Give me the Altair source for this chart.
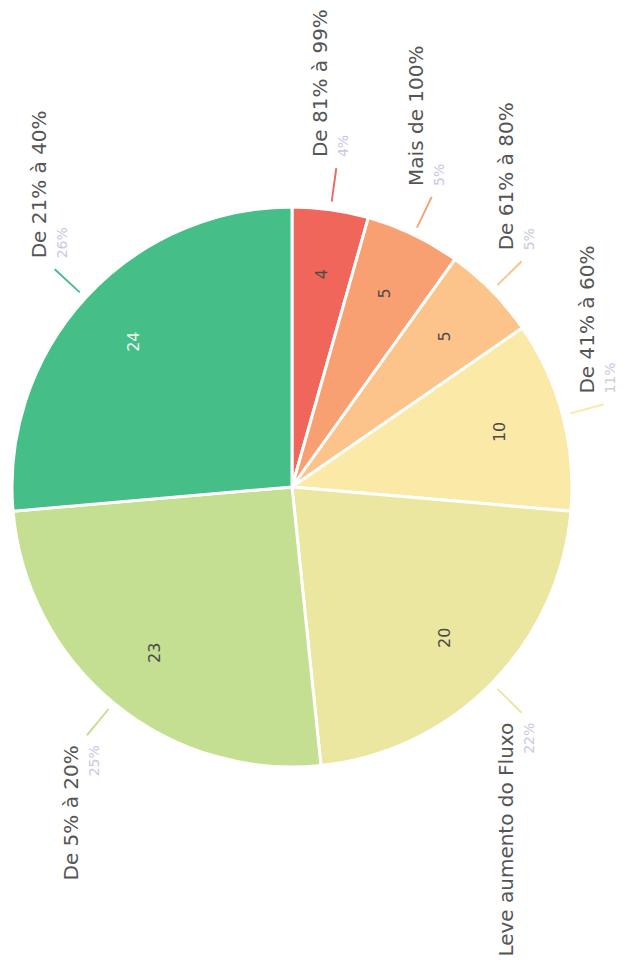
import math
import altair as alt
import pandas as pd

# ---- data (clockwise from 12 o'clock) ----
categories = ["De 81% à 99%", "Mais de 100%", "De 61% à 80%", "De 41% à 60%",
              "Leve aumento do Fluxo", "De 5% à 20%", "De 21% à 40%"]
values = [4, 5, 5, 10, 20, 23, 24]
pct_labels = ["4%", "5%", "5%", "11%", "22%", "25%", "26%"]
colors = ["#F0665A", "#F9A072", "#FCC38A", "#FBE9A7", "#EBE7A0", "#C5DF92", "#45BE88"]
num_colors = ["#4a4a4a", "#4a4a4a", "#4a4a4a", "#4a4a4a", "#4a4a4a", "#4a4a4a", "#EAF8F0"]

total = sum(values)
df = pd.DataFrame({"cat": categories, "value": values, "pct": pct_labels,
                   "numcolor": num_colors, "order": range(len(values))})
df["end"] = df["value"].cumsum()
df["start"] = df["end"] - df["value"]
df["mid"] = df["start"] + df["value"] / 2
df["upper"] = [math.cos(m / total * 2 * math.pi) > 0 for m in df["mid"]]

CX, CY = 284, 479
R = 280
R_LINE_OUT = 322
theta_scale = alt.Scale(domain=[0, total], range=[0, 2 * math.pi])
color_scale = alt.Scale(domain=categories, range=colors)

base = alt.Chart(df)

pie = base.mark_arc(stroke="white", strokeWidth=3).encode(
    theta=alt.Theta("start:Q", scale=theta_scale, stack=None),
    theta2="end:Q",
    color=alt.Color("cat:N", scale=color_scale, legend=None),
    x=alt.value(CX), y=alt.value(CY),
    radius=alt.value(R),
)

leaders = base.transform_calculate(
    t1="datum.mid - 0.045", t2="datum.mid + 0.045"
).mark_arc().encode(
    theta=alt.Theta("t1:Q", scale=theta_scale, stack=None),
    theta2="t2:Q",
    color=alt.Color("cat:N", scale=color_scale, legend=None),
    x=alt.value(CX), y=alt.value(CY),
    radius=alt.value(R_LINE_OUT), radius2=alt.value(288),
)

nums = base.mark_text(angle=270, align="center", baseline="middle",
                      fontSize=16, font="DejaVu Sans").encode(
    theta=alt.Theta("mid:Q", scale=theta_scale, stack=None),
    radius=alt.value(215),
    x=alt.value(CX), y=alt.value(CY),
    text="value:Q",
    color=alt.Color("numcolor:N", scale=None),
)

def outer_labels(upper):
    sub = base.transform_filter(f"datum.upper == {'true' if upper else 'false'}")
    al = "left" if upper else "right"
    dx = 11 if upper else -10
    enc = dict(theta=alt.Theta("mid:Q", scale=theta_scale, stack=None),
               radius=alt.value(R_LINE_OUT), x=alt.value(CX), y=alt.value(CY))
    main = sub.mark_text(angle=270, align=al, baseline="middle", dx=dx, dy=-15,
                         fontSize=20, font="DejaVu Sans", color="#555555").encode(
        text="cat:N", **enc)
    pct = sub.mark_text(angle=270, align=al, baseline="middle", dx=dx, dy=8,
                        fontSize=14, font="DejaVu Sans", color="#C9C9DF").encode(
        text="pct:N", **enc)
    return main + pct

chart = alt.layer(pie, leaders, nums, outer_labels(True), outer_labels(False)).properties(
    width=613, height=963, padding=0,
    autosize=alt.AutoSizeParams(type="none"),
).configure_view(stroke=None)

chart.save("out.html", embed_options={"renderer": "svg", "actions": False})
